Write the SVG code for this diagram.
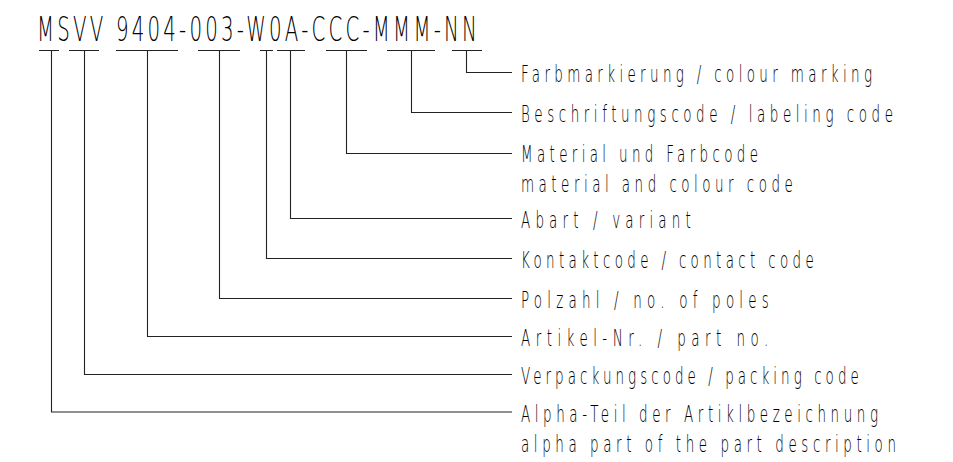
<svg xmlns="http://www.w3.org/2000/svg" width="953" height="462" viewBox="0 0 953 462">
<style>
.t{font-family:"DejaVu Sans","Liberation Sans",sans-serif;font-weight:200;fill:#000;}
.lab{font-size:22.5px;}
.ttl{font-size:33px;}
.c{fill:none;stroke:#222;stroke-width:1.1;}
</style>
<rect width="953" height="462" fill="#fff"/>
<g id="title">
<text class="t ttl" transform="matrix(0.6 0 0 1 37 41)" textLength="733" lengthAdjust="spacing">MSVV 9404-003-W0A-CCC-MMM-NN</text>
</g>
<g id="connectors" class="c">
<path d="M39 50.5H59M51.5 50.5V412H512"/>
<path d="M69 50.5H99M84.5 50.5V374.5H512"/>
<path d="M116 50.5H178M147.5 50.5V336.5H512"/>
<path d="M198 50.5H240M219.5 50.5V298.5H512"/>
<path d="M260 50.5H273M266.5 50.5V258.5H512"/>
<path d="M277 50.5H305M290.5 50.5V218.5H512"/>
<path d="M326 50.5H367M346.5 50.5V153.5H512"/>
<path d="M387 50.5H435M411.5 50.5V112.5H512"/>
<path d="M452 50.5H482M466.5 50.5V72.5H512"/>
</g>
<g id="n-farb"><text class="t lab" transform="matrix(0.6 0 0 1 521 82)" textLength="585" lengthAdjust="spacing">Farbmarkierung / colour marking</text></g>
<g id="n-beschr"><text class="t lab" transform="matrix(0.6 0 0 1 521 122)" textLength="620" lengthAdjust="spacing">Beschriftungscode / labeling code</text></g>
<g id="n-material"><text class="t lab" transform="matrix(0.6 0 0 1 521 162)" textLength="395" lengthAdjust="spacing">Material und Farbcode</text><text class="t lab" transform="matrix(0.6 0 0 1 521 192)" textLength="453" lengthAdjust="spacing">material and colour code</text></g>
<g id="n-abart"><text class="t lab" transform="matrix(0.6 0 0 1 521 228)" textLength="283" lengthAdjust="spacing">Abart / variant</text></g>
<g id="n-kontakt"><text class="t lab" transform="matrix(0.6 0 0 1 521 268)" textLength="488" lengthAdjust="spacing">Kontaktcode / contact code</text></g>
<g id="n-polzahl"><text class="t lab" transform="matrix(0.6 0 0 1 521 308)" textLength="413" lengthAdjust="spacing">Polzahl / no. of poles</text></g>
<g id="n-artikel"><text class="t lab" transform="matrix(0.6 0 0 1 521 346)" textLength="412" lengthAdjust="spacing">Artikel-Nr. / part no.</text></g>
<g id="n-verpack"><text class="t lab" transform="matrix(0.6 0 0 1 521 384)" textLength="563" lengthAdjust="spacing">Verpackungscode / packing code</text></g>
<g id="n-alpha"><text class="t lab" transform="matrix(0.6 0 0 1 521 422)" textLength="595" lengthAdjust="spacing">Alpha-Teil der Artiklbezeichnung</text><text class="t lab" transform="matrix(0.6 0 0 1 521 452)" textLength="625" lengthAdjust="spacing">alpha part of the part description</text></g>
</svg>
